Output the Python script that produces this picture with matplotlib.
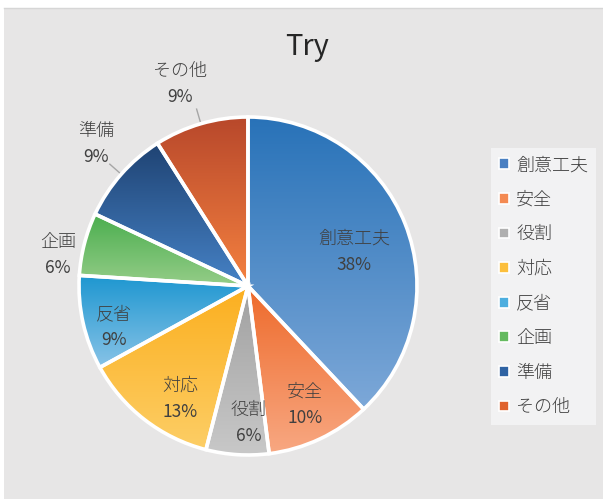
import numpy as np
import matplotlib
matplotlib.use('Agg')
import matplotlib.pyplot as plt
from matplotlib.patches import Rectangle, Patch
from matplotlib.colors import LinearSegmentedColormap

plt.rcParams['font.family'] = ['Noto Sans CJK JP', 'DejaVu Sans']

# ---- data ----
categories = ['創意工夫', '安全', '役割', '対応', '反省', '企画', '準備', 'その他']
values = [38, 10, 6, 13, 9, 6, 9, 9]
title = 'Try'

# ---- style ----
top_colors = ['#2872B8', '#EE6A2B', '#A0A0A0', '#FBAF1F', '#1C96D0', '#4BAE4F', '#1F4373', '#B8482B']
bottom_colors = ['#7DA8D8', '#F8A882', '#C8C8C8', '#FDCE66', '#88C3E7', '#95CD88', '#4682C6', '#F48140']
legend_colors = ['#4A80C2', '#F48A52', '#B0B0B0', '#FCBF3C', '#4DAEDF', '#66BB60', '#2F63A3', '#E0642F']
label_dist = [0.66, 0.78, 0.81, 0.78, 0.83, 1.14, 1.23, 1.26]
label_shift_deg = [-3.8, 0.4, 4.0, 6.8, 4.4, 5.1, -1.8, 2.4]
text_color = '#404040'

W, H = 603, 499
fig = plt.figure(figsize=(W / 100, H / 100), dpi=100)
fig.patch.set_facecolor('white')
fig.patches.append(Rectangle((4 / W, 0), 1, 1 - 8 / H, transform=fig.transFigure,
                             fc='#E7E6E6', ec='none', zorder=-10))
fig.lines.append(plt.Line2D([4 / W, 1], [1 - 8 / H, 1 - 8 / H], transform=fig.transFigure,
                            color='#D6D6D6', lw=1, zorder=-9))

cx, cy, R = 248, 286, 169
ax = fig.add_axes([0, 0, 1, 1])
ax.patch.set_alpha(0)

wedges, _ = ax.pie(values, startangle=90, counterclock=False, radius=1,
                   wedgeprops=dict(edgecolor='white', linewidth=2.6, facecolor='none'))

grad = np.linspace(0, 1, 256).reshape(-1, 1)
for w, c0, c1 in zip(wedges, top_colors, bottom_colors):
    bb = w.get_path().get_extents()
    cmap = LinearSegmentedColormap.from_list('g', [c1, c0])
    im = ax.imshow(grad, cmap=cmap, extent=(bb.x0, bb.x1, bb.y0, bb.y1), origin='lower',
                   aspect='auto', zorder=1, interpolation='bilinear')
    im.set_clip_path(w)
    w.set_zorder(2)

total = sum(values)
cum = np.cumsum([0] + values) / total
for i, (cat, v) in enumerate(zip(categories, values)):
    mid_deg = 90 - 360 * (cum[i] + cum[i + 1]) / 2
    mid = np.deg2rad(mid_deg)
    lab = np.deg2rad(mid_deg + label_shift_deg[i])
    d = label_dist[i]
    x, y = d * np.cos(lab), d * np.sin(lab)
    ax.annotate(cat, (x, y), xytext=(0, 9.5), textcoords='offset points',
                ha='center', va='center', fontsize=13, color=text_color,
                fontweight='light', zorder=5)
    ax.annotate(f'{round(100 * v / total)}%', (x, y), xytext=(0, -9.5), textcoords='offset points',
                ha='center', va='center', fontsize=12.5, color=text_color,
                fontweight='normal', zorder=5)
    if d > 1.2:
        ax.plot([np.cos(mid) * 1.0, np.cos(mid) * 1.09], [np.sin(mid) * 1.0, np.sin(mid) * 1.09],
                color='#A6A6A6', lw=1, zorder=1.5)

ax.set_xlim(-cx / R, (W - cx) / R)
ax.set_ylim(-(H - cy) / R, cy / R)
ax.set_aspect('auto')
ax.axis('off')

fig.text(307 / W, 1 - 47 / H, title, fontsize=21, ha='center', va='center', color='#262626')

handles = [Patch(facecolor=c, edgecolor='white', linewidth=1.2) for c in legend_colors]
leg = fig.legend(handles, categories, loc='upper left', bbox_to_anchor=(491 / W, 1 - 148 / H),
                 frameon=True, fancybox=False, labelspacing=0.92,
                 handlelength=0.55, handleheight=0.55, handletextpad=0.4,
                 borderpad=0.45, borderaxespad=0, prop=dict(size=13, weight='light'))
leg.get_frame().set_facecolor('#F2F2F3')
leg.get_frame().set_edgecolor('none')
leg.get_frame().set_alpha(1)
for t in leg.get_texts():
    t.set_color(text_color)

fig.savefig('out.png', dpi=100)
